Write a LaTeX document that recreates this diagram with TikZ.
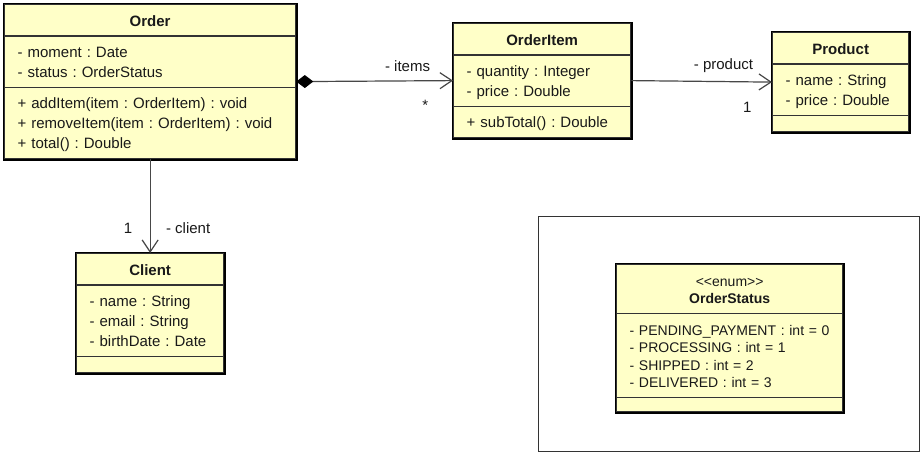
\documentclass[tikz,border=0pt]{standalone}
\usepackage{fontspec}
\setmainfont{Liberation Sans}
\usetikzlibrary{shapes.multipart,arrows.meta}
\definecolor{classfill}{RGB}{255,255,200}
\newcommand{\umltop}{\rule{0pt}{17pt}}
\newcommand{\umlbot}{\rule[-5pt]{0pt}{5pt}}

\begin{document}
\begin{tikzpicture}[x=1pt,y=-1pt,
  class node/.style={rectangle split,rectangle split parts=3,anchor=north west,
    draw=black!80,line width=1.3pt,fill=classfill,text=black!90,
    inner xsep=13pt,inner ysep=4pt,font=\fontsize{15}{20}\selectfont\frenchspacing,
    append after command={\pgfextra{\draw[draw=black,fill=none,line width=2.6pt]
      (\tikzlastnode.north west) rectangle (\tikzlastnode.south east);}}},
  enum node/.style={class node,font=\fontsize{14}{17.5}\selectfont\frenchspacing},
  frame node/.style={draw=black!80,line width=0.8pt,anchor=north west,inner sep=0pt},
  assoc/.style={draw=black!72,line width=1.2pt,arrows={-Straight Barb[length=12pt,width=16pt]}},
  comp/.style={assoc,arrows={Diamond[length=17pt,width=13pt,color=black]-Straight Barb[length=12pt,width=16pt]}},
  role/.style={anchor=base,inner sep=0pt,text=black!90,font=\fontsize{15}{20}\selectfont}]

  \path[use as bounding box,fill=white] (0,0) rectangle (923,455);

  \node[class node,text width=265pt] at (4,4) (order) {\makebox[\linewidth]{\umltop\umlbot\textbf{Order}}
    \nodepart{two}\umltop- moment : Date\\- status : OrderStatus\umlbot
    \nodepart{three}\umltop+ addItem(item : OrderItem) : void\\+ removeItem(item : OrderItem) : void\\+ total() : Double\umlbot};

  \node[class node,text width=151pt] at (453,23) (orderitem) {\makebox[\linewidth]{\umltop\umlbot\textbf{OrderItem}}
    \nodepart{two}\umltop- quantity : Integer\\- price : Double\umlbot
    \nodepart{three}\umltop\umlbot+ subTotal() : Double};

  \node[class node,text width=110pt] at (772,32) (product) {\makebox[\linewidth]{\umltop\umlbot\textbf{Product}}
    \nodepart{two}\umltop- name : String\\- price : Double\umlbot
    \nodepart{three}\rule{0pt}{7pt}};

  \node[class node,text width=121pt] at (76,253) (client) {\makebox[\linewidth]{\umltop\umlbot\textbf{Client}}
    \nodepart{two}\umltop- name : String\\- email : String\\- birthDate : Date\umlbot
    \nodepart{three}\rule{0pt}{7pt}};

  \node[frame node,minimum width=381pt,minimum height=235pt] at (538,216) (frame) {};

  \node[enum node,text width=200pt] at (616,264) (status) {\makebox[\linewidth]{\umltop<{}<enum>{}>}\\\makebox[\linewidth]{\umlbot\textbf{OrderStatus}}
    \nodepart{two}\umltop- PENDING\_PAYMENT : int = 0\\- PROCESSING : int = 1\\- SHIPPED : int = 2\\- DELIVERED : int = 3\umlbot
    \nodepart{three}\rule{0pt}{5pt}};

  \path
  (order.east) edge[comp] node[role,pos=0.71,yshift=9.5pt] {- items}
    node[role,pos=0.823,yshift=-30pt] {*} (orderitem.west)
  (orderitem.east) edge[assoc] node[role,pos=0.655,yshift=12pt] {- product}
    node[role,pos=0.824,yshift=-31pt] {1} (product.west)
  (order.south) edge[assoc] node[role,pos=0.79,xshift=-22pt] {1}
    node[role,pos=0.79,xshift=38pt] {- client} (client.north);
\end{tikzpicture}
\end{document}
